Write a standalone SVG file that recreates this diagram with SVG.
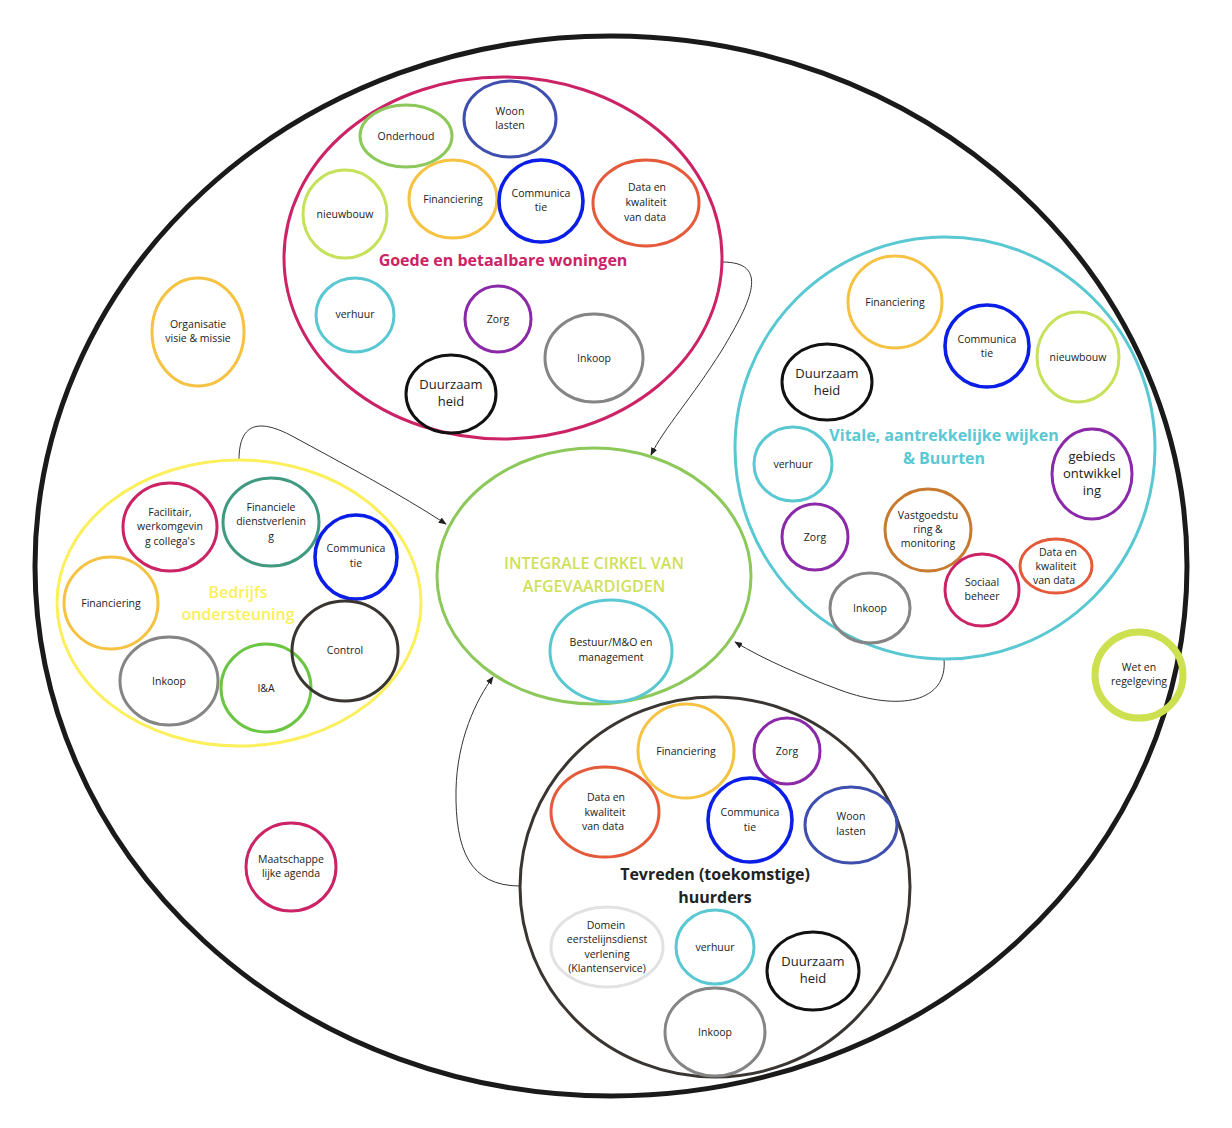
<svg xmlns="http://www.w3.org/2000/svg" width="1232" height="1128" viewBox="0 0 1232 1128">
<defs>
<marker id="ah" viewBox="0 0 10 10" refX="9" refY="5" markerWidth="8" markerHeight="8" orient="auto-start-reverse"><path d="M0,1 L10,5 L0,9 z" fill="#222"/></marker>
<style>
text{font-family:"Open Sans","Noto Sans",sans-serif;text-anchor:middle;fill:#222}
.s{font-size:10.5px}
.m{font-size:13px}
.t{font-size:16px;font-weight:700}
ellipse{fill:none;stroke-width:3}
ellipse.bl{stroke-width:3.6}
.c{fill:none;stroke:#333;stroke-width:1}
</style>
</defs>
<rect width="1232" height="1128" fill="#fff"/>
<ellipse cx="611" cy="566" rx="576" ry="530" stroke="#1a1a1a" style="stroke-width:5"/>

<g id="connectors">
<path class="c" d="M722,262 C770,262 752,300 722,350 C692,398 664,428 651,455" marker-end="url(#ah)"/>
<path class="c" d="M239,460 C239,420 262,420 292,436 C340,462 400,494 446,524" marker-end="url(#ah)"/>
<path class="c" d="M944,659 C948,702 900,712 840,690 C800,675 765,660 735,642" marker-end="url(#ah)"/>
<path class="c" d="M520,886 C470,886 455,850 456,790 C457,740 476,700 493,677" marker-end="url(#ah)"/>
</g>

<g id="woningen">
<ellipse cx="503" cy="258" rx="219" ry="181" stroke="#cc2366"/>
<text class="t" x="503" y="266" style="fill:#cc2366">Goede en betaalbare woningen</text>
<g id="w-onderhoud"><ellipse cx="406" cy="136" rx="46" ry="31" stroke="#8cc85a"/><text class="s" x="406" y="140">Onderhoud</text></g>
<g id="w-woon"><ellipse cx="510" cy="119" rx="46" ry="38" stroke="#3f4fae"/><text class="s" x="510" y="115">Woon</text><text class="s" x="510" y="129">lasten</text></g>
<g id="w-nieuwbouw"><ellipse cx="345" cy="214" rx="42" ry="44" stroke="#c5e25a"/><text class="s" x="345" y="218">nieuwbouw</text></g>
<g id="w-fin"><ellipse cx="453" cy="199" rx="44" ry="39" stroke="#f5c242"/><text class="s" x="453" y="203">Financiering</text></g>
<g id="w-comm"><ellipse class="bl" cx="541" cy="201" rx="42" ry="41" stroke="#0a1ee8"/><text class="s" x="541" y="197">Communica</text><text class="s" x="541" y="211">tie</text></g>
<g id="w-data"><ellipse cx="646" cy="203" rx="53" ry="43" stroke="#e55a3a"/><text class="s" x="647" y="191">Data en</text><text class="s" x="646" y="206">kwaliteit</text><text class="s" x="645" y="221">van data</text></g>
<g id="w-verhuur"><ellipse cx="355" cy="315" rx="39" ry="37" stroke="#5ac8d2"/><text class="s" x="355" y="318">verhuur</text></g>
<g id="w-zorg"><ellipse cx="498" cy="319" rx="33" ry="33" stroke="#8a2aa8"/><text class="s" x="498" y="323">Zorg</text></g>
<g id="w-inkoop"><ellipse cx="594" cy="358" rx="49" ry="44" stroke="#858585"/><text class="s" x="594" y="362">Inkoop</text></g>
<g id="w-duurzaam"><ellipse cx="451" cy="394" rx="45" ry="39" stroke="#111"/><text class="m" x="451" y="389">Duurzaam</text><text class="m" x="451" y="406">heid</text></g>
</g>

<g id="wijken">
<ellipse cx="945" cy="448" rx="210" ry="211" stroke="#5ac8d2"/>
<text class="t" x="944" y="441" style="fill:#5ac8d2">Vitale, aantrekkelijke wijken</text>
<text class="t" x="944" y="464" style="fill:#5ac8d2">&amp; Buurten</text>
<g id="v-fin"><ellipse cx="895" cy="302" rx="47" ry="46" stroke="#f5c242"/><text class="s" x="895" y="306">Financiering</text></g>
<g id="v-comm"><ellipse class="bl" cx="987" cy="346" rx="42" ry="41" stroke="#0a1ee8"/><text class="s" x="987" y="343">Communica</text><text class="s" x="987" y="357">tie</text></g>
<g id="v-nieuwbouw"><ellipse cx="1078" cy="357" rx="41" ry="45" stroke="#c5e25a"/><text class="s" x="1078" y="361">nieuwbouw</text></g>
<g id="v-duurzaam"><ellipse cx="827" cy="382" rx="45" ry="38" stroke="#111"/><text class="m" x="827" y="378">Duurzaam</text><text class="m" x="827" y="395">heid</text></g>
<g id="v-verhuur"><ellipse cx="793" cy="464" rx="39" ry="37" stroke="#5ac8d2"/><text class="s" x="793" y="468">verhuur</text></g>
<g id="v-gebieds"><ellipse cx="1092" cy="474" rx="40" ry="45" stroke="#8a2aa8"/><text class="m" x="1092" y="461">gebieds</text><text class="m" x="1092" y="478">ontwikkel</text><text class="m" x="1092" y="495">ing</text></g>
<g id="v-zorg"><ellipse cx="815" cy="537" rx="33" ry="33" stroke="#8a2aa8"/><text class="s" x="815" y="541">Zorg</text></g>
<g id="v-vast"><ellipse cx="928" cy="530" rx="43" ry="41" stroke="#c87b2e"/><text class="s" x="928" y="519">Vastgoedstu</text><text class="s" x="928" y="533">ring &amp;</text><text class="s" x="928" y="547">monitoring</text></g>
<g id="v-sociaal"><ellipse cx="982" cy="590" rx="37" ry="36" stroke="#cc2366"/><text class="s" x="982" y="586">Sociaal</text><text class="s" x="982" y="600">beheer</text></g>
<g id="v-data"><ellipse cx="1056" cy="566" rx="36" ry="27" stroke="#e55a3a"/><text class="s" x="1058" y="556">Data en</text><text class="s" x="1056" y="570">kwaliteit</text><text class="s" x="1054" y="584">van data</text></g>
<g id="v-inkoop"><ellipse cx="870" cy="608" rx="40" ry="35" stroke="#858585"/><text class="s" x="870" y="612">Inkoop</text></g>
</g>

<g id="bedrijfs">
<ellipse cx="239" cy="603" rx="182" ry="143" stroke="#fbef5b"/>
<text class="t" x="238" y="598" style="fill:#fbef5b;font-weight:600">Bedrijfs</text>
<text class="t" x="238" y="620" style="fill:#fbef5b;font-weight:600">ondersteuning</text>
<g id="b-facil"><ellipse cx="170" cy="527" rx="47" ry="44" stroke="#cc2366"/><text class="s" x="170" y="516">Facilitair,</text><text class="s" x="170" y="530">werkomgevin</text><text class="s" x="170" y="545">g collega's</text></g>
<g id="b-findienst"><ellipse cx="271" cy="522" rx="48" ry="44" stroke="#3f9a80"/><text class="s" x="271" y="511">Financiele</text><text class="s" x="271" y="525">dienstverlenin</text><text class="s" x="271" y="540">g</text></g>
<g id="b-comm"><ellipse class="bl" cx="356" cy="557" rx="41" ry="42" stroke="#0a1ee8"/><text class="s" x="356" y="552">Communica</text><text class="s" x="356" y="567">tie</text></g>
<g id="b-fin"><ellipse cx="111" cy="603" rx="47" ry="46" stroke="#f5c242"/><text class="s" x="111" y="607">Financiering</text></g>
<g id="b-inkoop"><ellipse cx="169" cy="681" rx="49" ry="44" stroke="#858585"/><text class="s" x="169" y="685">Inkoop</text></g>
<g id="b-ia"><ellipse cx="266" cy="688" rx="45" ry="44" stroke="#6cc644"/><text class="s" x="266" y="692">I&amp;A</text></g>
<g id="b-control"><ellipse cx="345" cy="651" rx="53" ry="50" stroke="#3a3530"/><text class="s" x="345" y="654">Control</text></g>
</g>

<g id="integrale">
<ellipse cx="594" cy="576" rx="157" ry="128" stroke="#8cc85a"/>
<text x="594" y="569" style="fill:#cfe05a;font-size:16px;font-weight:600">INTEGRALE CIRKEL VAN</text>
<text x="594" y="592" style="fill:#cfe05a;font-size:16px;font-weight:600">AFGEVAARDIGDEN</text>
<g id="i-bestuur"><ellipse cx="611" cy="651" rx="61" ry="51" stroke="#5ac8d2"/><text class="s" x="611" y="646">Bestuur/M&amp;O en</text><text class="s" x="611" y="661">management</text></g>
</g>

<g id="huurders">
<ellipse cx="715" cy="887" rx="195" ry="190" stroke="#3a3530"/>
<text class="t" x="715" y="880">Tevreden (toekomstige)</text>
<text class="t" x="715" y="903">huurders</text>
<g id="h-fin"><ellipse cx="686" cy="751" rx="48" ry="47" stroke="#f5c242"/><text class="s" x="686" y="755">Financiering</text></g>
<g id="h-zorg"><ellipse cx="787" cy="751" rx="33" ry="33" stroke="#8a2aa8"/><text class="s" x="787" y="755">Zorg</text></g>
<g id="h-data"><ellipse cx="605" cy="812" rx="54" ry="45" stroke="#e55a3a"/><text class="s" x="606" y="801">Data en</text><text class="s" x="605" y="816">kwaliteit</text><text class="s" x="603" y="830">van data</text></g>
<g id="h-comm"><ellipse class="bl" cx="750" cy="820" rx="42" ry="42" stroke="#0a1ee8"/><text class="s" x="750" y="816">Communica</text><text class="s" x="750" y="831">tie</text></g>
<g id="h-woon"><ellipse cx="851" cy="825" rx="46" ry="38" stroke="#3f4fae"/><text class="s" x="851" y="820">Woon</text><text class="s" x="851" y="835">lasten</text></g>
<g id="h-domein"><ellipse cx="607" cy="947" rx="56" ry="40" stroke="#e2e2e2"/><text class="s" x="606" y="929">Domein</text><text class="s" x="607" y="943">eerstelijnsdienst</text><text class="s" x="607" y="958">verlening</text><text class="s" x="607" y="972">(Klantenservice)</text></g>
<g id="h-verhuur"><ellipse cx="715" cy="947" rx="39" ry="37" stroke="#5ac8d2"/><text class="s" x="715" y="951">verhuur</text></g>
<g id="h-duurzaam"><ellipse cx="813" cy="971" rx="46" ry="39" stroke="#111"/><text class="m" x="813" y="966">Duurzaam</text><text class="m" x="813" y="983">heid</text></g>
<g id="h-inkoop"><ellipse cx="715" cy="1032" rx="50" ry="44" stroke="#858585"/><text class="s" x="715" y="1036">Inkoop</text></g>
</g>

<g id="organisatie"><ellipse cx="198" cy="332" rx="46" ry="54" stroke="#f5c242"/><text class="s" x="198" y="328">Organisatie</text><text class="s" x="198" y="342">visie &amp; missie</text></g>
<g id="maatschappelijk"><ellipse cx="291" cy="867" rx="45" ry="44" stroke="#cc2366"/><text class="s" x="291" y="863">Maatschappe</text><text class="s" x="291" y="877">lijke agenda</text></g>
<g id="wet"><ellipse cx="1139" cy="675" rx="44" ry="43" stroke="#cde04f" style="stroke-width:7"/><text class="s" x="1139" y="671">Wet en</text><text class="s" x="1139" y="685">regelgeving</text></g>
</svg>
